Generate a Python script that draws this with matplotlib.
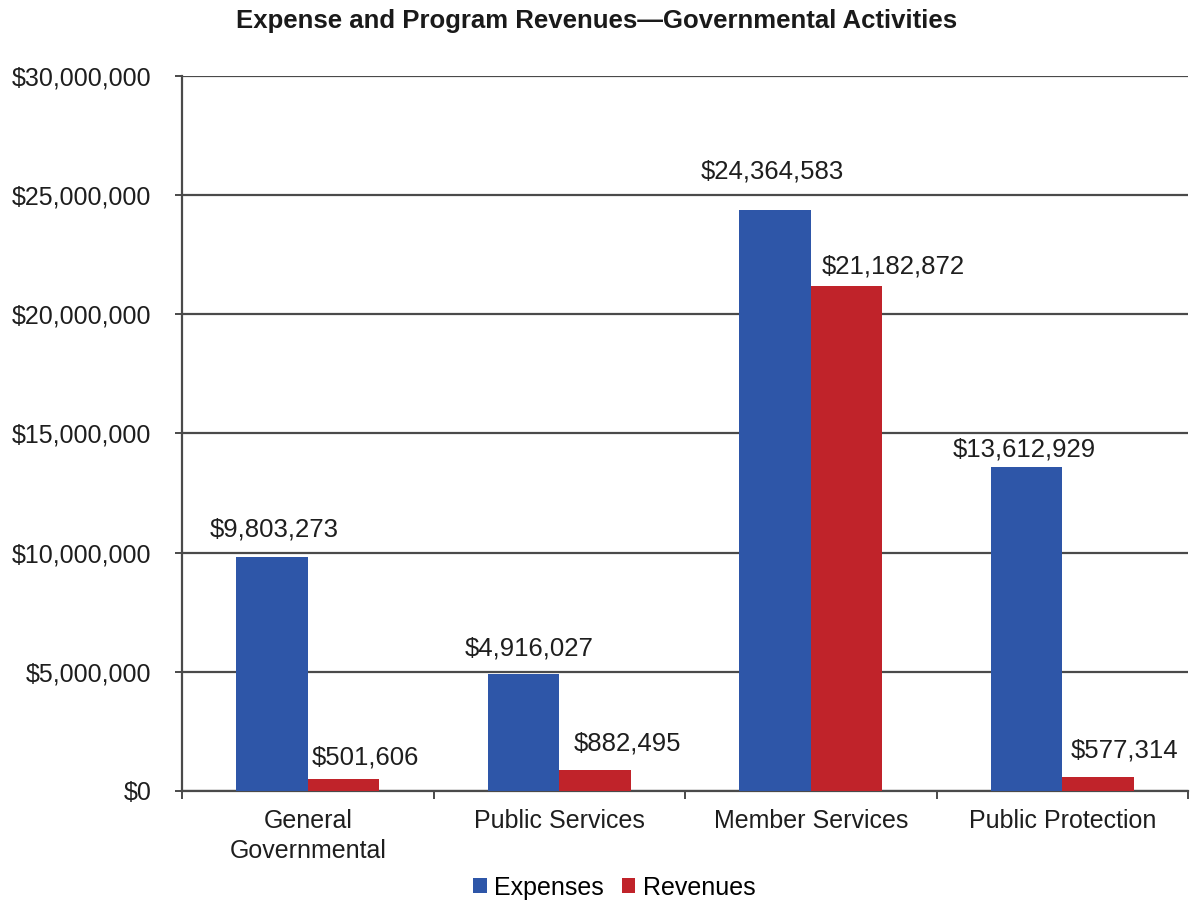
import numpy as np
import matplotlib.pyplot as plt
from matplotlib.ticker import FuncFormatter, FixedLocator

categories = ['General\nGovernmental', 'Public Services', 'Member Services', 'Public Protection']
expenses = [9803273, 4916027, 24364583, 13612929]
revenues = [501606, 882495, 21182872, 577314]

# hand-placed label nudges (pixels): (dx, dy above bar top)
exp_nudge = [(2, 21), (6, 18), (-3, 32), (-2, 10)]
rev_nudge = [(4, 15), (14, 19), (11, 13), (8, 20)]

BLUE = '#2e56a8'
RED = '#c0232a'
GRID = '#4a4a4a'
TXT = '#1e1e1e'

plt.rcParams['font.family'] = ['Liberation Sans', 'DejaVu Sans']

fig = plt.figure(figsize=(11.93, 9.05), dpi=100)
ax = fig.add_axes([0.1526, 0.126, 0.8432, 0.790])

x = np.arange(len(categories))
w = 0.284
b1 = ax.bar(x - w / 2, expenses, w, color=BLUE, label='Expenses', zorder=3)
b2 = ax.bar(x + w / 2, revenues, w, color=RED, label='Revenues', zorder=3)

px = 72 / 100  # points per pixel
for rect, v, (dx, dy) in zip(b1, expenses, exp_nudge):
    ax.annotate(f'${v:,.0f}', (rect.get_x() + rect.get_width() / 2, v),
                xytext=(dx * px, dy * px), textcoords='offset points',
                ha='center', va='baseline', fontsize=18.5, color=TXT)
for rect, v, (dx, dy) in zip(b2, revenues, rev_nudge):
    ax.annotate(f'${v:,.0f}', (rect.get_x(), v),
                xytext=(dx * px, dy * px), textcoords='offset points',
                ha='left', va='baseline', fontsize=18.5, color=TXT)

ax.set_xlim(-0.5, len(categories) - 0.5)
ax.set_ylim(0, 30000000)
ax.set_yticks(np.arange(0, 30000001, 5000000))
ax.yaxis.set_major_formatter(FuncFormatter(lambda v, p: f'${v:,.0f}'))
ax.yaxis.grid(True, color=GRID, linewidth=1.6, zorder=0)

# category labels centred, small ticks on category boundaries
ax.set_xticks(x)
ax.set_xticklabels(categories, fontsize=18, color=TXT, linespacing=1.3)
ax.tick_params(axis='x', length=0, pad=13)
ax.xaxis.set_minor_locator(FixedLocator(np.arange(-0.5, len(categories), 1.0)))
ax.tick_params(axis='x', which='minor', length=6, width=1.4, color=GRID)
ax.tick_params(axis='y', length=5, width=1.4, color=GRID, labelsize=18,
               labelcolor=TXT, pad=17)

for s in ('top', 'right'):
    ax.spines[s].set_visible(False)
for s in ('left', 'bottom'):
    ax.spines[s].set_color(GRID)
    ax.spines[s].set_linewidth(1.6)

fig.text(0.5, 0.977, 'Expense and Program Revenues\u2014Governmental Activities',
         ha='center', va='center', fontsize=18.5, fontweight='bold', color='#1a1a1a')

fig.legend(handles=[b1, b2], loc='center', bbox_to_anchor=(0.515, 0.019),
           ncol=2, frameon=False, fontsize=18, handlelength=0.55,
           handleheight=0.55, handletextpad=0.3, columnspacing=0.7)

fig.savefig('out.png', dpi=100)
